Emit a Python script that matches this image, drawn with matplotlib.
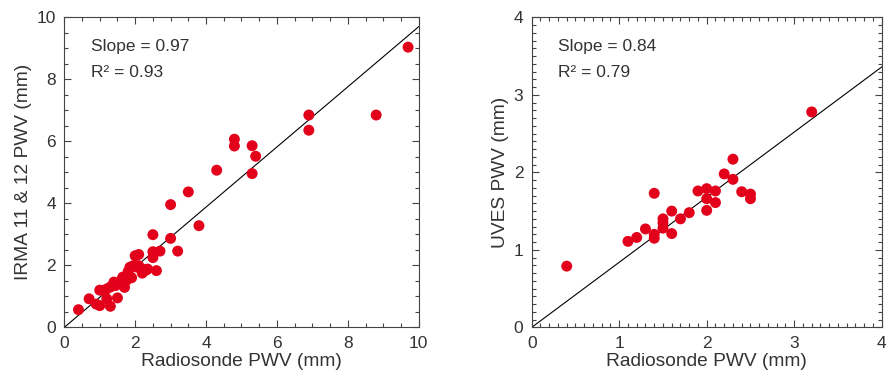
import matplotlib
matplotlib.use("Agg")
import matplotlib.pyplot as plt
from matplotlib.ticker import MultipleLocator

plt.rcParams['font.family'] = ['Liberation Sans', 'DejaVu Sans']

# IRMA vs radiosonde
irma_x = [0.4, 0.7, 0.9, 1.0, 1.3, 1.1, 1.2, 1.2, 1.5, 1.4, 1.45, 1.6, 1.6, 1.7,
          1.65, 1.75, 1.8, 1.85, 1.95, 2.05, 2.1, 2.0, 2.1, 2.2, 2.2, 2.35, 2.6,
          2.3, 2.5, 2.5, 2.7, 3.0, 3.0, 2.5, 3.2, 3.8, 3.5, 4.3, 4.8, 4.8, 5.3,
          5.4, 5.3, 6.9, 6.9, 8.8, 9.7, 1.9, 1.8, 1.3, 1.0]
irma_y = [0.57, 0.92, 0.75, 0.7, 0.68, 1.19, 1.24, 0.92, 0.95, 1.46, 1.35, 1.4, 1.51, 1.29,
          1.62, 1.51, 1.72, 1.94, 1.99, 1.94, 1.99, 2.31, 2.35, 1.75, 1.88, 1.88, 1.83,
          1.84, 2.25, 2.44, 2.46, 2.87, 3.96, 2.99, 2.46, 3.28, 4.37, 5.07, 6.07, 5.85, 5.86,
          5.52, 4.96, 6.85, 6.36, 6.85, 9.04, 1.6, 1.8, 1.3, 1.2]

# UVES vs radiosonde
uves_x = [0.4, 1.1, 1.2, 1.3, 1.4, 1.4, 1.4, 1.5, 1.5, 1.5, 1.6, 1.6, 1.7, 1.8,
          1.9, 2.0, 2.0, 2.0, 2.1, 2.1, 2.2, 2.3, 2.3, 2.4, 2.5, 2.5, 3.2]
uves_y = [0.79, 1.11, 1.16, 1.27, 1.20, 1.15, 1.73, 1.40, 1.35, 1.28, 1.50, 1.21, 1.40, 1.48,
          1.76, 1.79, 1.66, 1.51, 1.76, 1.61, 1.98, 2.17, 1.91, 1.75, 1.72, 1.66, 2.78]

panels = [
    (irma_x, irma_y, 0.97, 0.93, 10, 2, 0.5, 'IRMA 11 & 12 PWV (mm)'),
    (uves_x, uves_y, 0.84, 0.79, 4, 1, 0.1, 'UVES PWV (mm)'),
]
lefts = [0.0724, 0.5988]
width = [0.3991, 0.3941]

red = '#e2001a'
txt = '#333333'

fig = plt.figure(figsize=(8.88, 3.78), dpi=100)
for i, (x, y, slope, r2, lim, major, minor, ylab) in enumerate(panels):
    ax = fig.add_axes([lefts[i], 0.134, width[i], 0.820])
    ax.scatter(x, y, s=62, color=red, edgecolors='none', zorder=3)
    ax.plot([0, lim], [0, slope * lim], color='black', lw=0.8, zorder=2)
    ax.set_xlim(0, lim)
    ax.set_ylim(0, lim)
    ax.xaxis.set_major_locator(MultipleLocator(major))
    ax.yaxis.set_major_locator(MultipleLocator(major))
    ax.xaxis.set_minor_locator(MultipleLocator(minor))
    ax.yaxis.set_minor_locator(MultipleLocator(minor))
    ax.tick_params(which='both', direction='in', top=True, right=True,
                   color='#444444', labelsize=12.5, labelcolor=txt, pad=6)
    ax.tick_params(which='major', length=5, width=0.8)
    ax.tick_params(which='minor', length=3, width=0.8)
    for sp in ax.spines.values():
        sp.set_color('#444444')
        sp.set_linewidth(0.8)
    ax.set_xlabel('Radiosonde PWV (mm)', fontsize=13.8, color=txt, labelpad=2)
    ax.set_ylabel(ylab, fontsize=13.8, color=txt, labelpad=3)
    ax.text(0.075, 0.905, 'Slope = %.2f' % slope, transform=ax.transAxes,
            fontsize=12.5, color=txt, va='center')
    ax.text(0.075, 0.822, 'R² = %.2f' % r2, transform=ax.transAxes,
            fontsize=12.5, color=txt, va='center')

fig.savefig('out.png', dpi=100)
